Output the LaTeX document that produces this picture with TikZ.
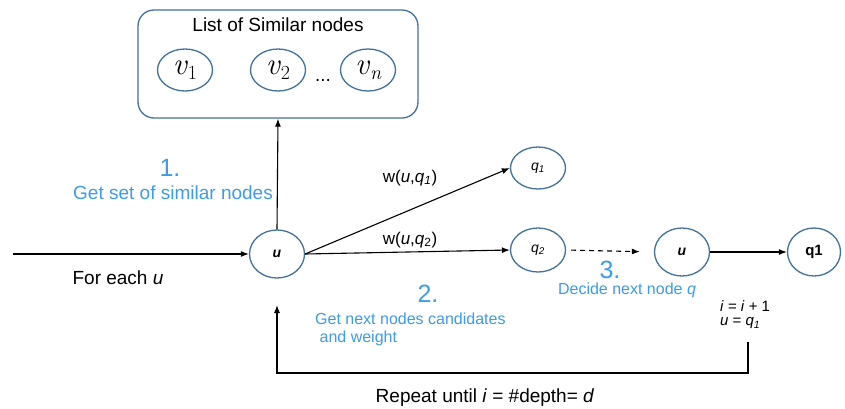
\documentclass[tikz,border=0pt]{standalone}
\usepackage{fontspec}
\setmainfont{Liberation Sans}
\usetikzlibrary{arrows.meta,shapes.geometric,calc}
\definecolor{ringblue}{HTML}{41719C}
\definecolor{noteblue}{HTML}{3D9BE9}
\newcommand{\fs}[1]{\fontsize{#1}{#1}\selectfont}
% italic vertex names set in Latin Modern
\newcommand{\vname}[1]{{\fontfamily{lmr}\fs{31}\itshape v\/}\raisebox{-5pt}{\fontfamily{lmr}\fs{20}\upshape #1}}
\newcommand{\vnamen}{{\fontfamily{lmr}\fs{31}\itshape v\/}\raisebox{-5pt}{\fontfamily{lmr}\fs{20}\itshape n}}
\begin{document}
\begin{tikzpicture}[x=1pt,y=-1pt,
  ring/.style={ellipse,draw=ringblue,line width=1.3pt,inner sep=0pt,
               minimum width=55pt,minimum height=46pt},
  link/.style={line width=1.1pt,-{Latex[length=8pt,width=6pt]}},
  note/.style={text=noteblue,font=\fs{19}},
  stepnum/.style={text=noteblue,font=\fs{25}},
  plain/.style={font=\fs{19}},
]
\useasboundingbox (0,0) rectangle (845,408);

% container with the similar nodes
\node[draw=ringblue,line width=1.3pt,rounded corners=16pt,
      minimum width=280pt,minimum height=108pt] (sim) at (278,64) {};
\node[plain] (simtitle) at (278,25) {List of Similar nodes};
\node[ring,minimum height=42pt] (v1) at (185,70) {\vname{1}};
\node[ring,minimum height=42pt] (v2) at (278,70) {\vname{2}};
\node[ring,minimum height=42pt] (vn) at (368,70) {\vnamen};
\node[font=\fs{19}] (dots) at (323,80) {...};

% walk nodes
\node[ring,minimum height=48pt] (u) at (277,254) {\fs{14}\textbf{\textit{u}}};
\node[ring,minimum height=42pt] (q1) at (538,168) {\fs{14}\textit{q}\textsubscript{\textit{1}}};
\node[ring,minimum height=44pt] (q2) at (538,250) {\fs{14}\textit{q}\textsubscript{\textit{2}}};
\node[ring,minimum height=48pt] (u2) at (682,252) {\fs{14}\textbf{\textit{u}}};
\node[ring,minimum width=53pt,minimum height=48pt] (qq) at (814,252) {\fs{15}\textbf{q1}};

% connectors
\coordinate (start) at (13,254);
\draw[link] (start) -- (u.west);
\draw[link] (u.north) -- (sim.south);
\draw[link] (u.east) -- (q1.west);
\draw[link] (u.east) -- (q2.west);
\draw[link,dash pattern=on 5pt off 4pt,shorten <=5pt,shorten >=14pt] (q2.east) -- (u2.west);
\draw[link] (u2.east) -- (qq.west);

% repeat loop
\coordinate (loopstart) at (748,342);
\coordinate (loopend) at (277,305);
\draw[link] (loopstart) -- ++(0,31) -| (loopend);

% labels
\node[plain] (foreach) at (118,278) {For each \textit{u}};
\node[stepnum] (n1) at (170,168) {1.};
\node[note] (t1) at (173,193) {Get set of similar nodes};
\node[font=\fs{17}] (w1) at (410,178) {w(\textit{u},\textit{q}\textsubscript{\textit{1}})};
\node[font=\fs{17}] (w2) at (410,240) {w(\textit{u},\textit{q}\textsubscript{2})};
\node[stepnum] (n2) at (428,294) {2.};
\node[note,font=\fs{16},align=left,anchor=west,inner sep=0pt] (t2) at (315,329)
  {Get next nodes candidates\\[2pt]\ and weight};
\node[stepnum,inner sep=0pt] (n3) at (610,270) {3.};
\node[note,font=\fs{16},inner sep=0pt] (t3) at (627,290) {Decide next node \textit{q}};
\node[font=\fs{15},align=left,anchor=west,inner sep=0pt] (upd) at (720,315)
  {\textit{i} = \textit{i} + 1\\[-1pt]\textit{u} = \textit{q}\textsubscript{\textit{1}}};
\node[plain] (repeat) at (485,398) {Repeat until \textit{i} = \#depth= \textit{d}};
\end{tikzpicture}
\end{document}
